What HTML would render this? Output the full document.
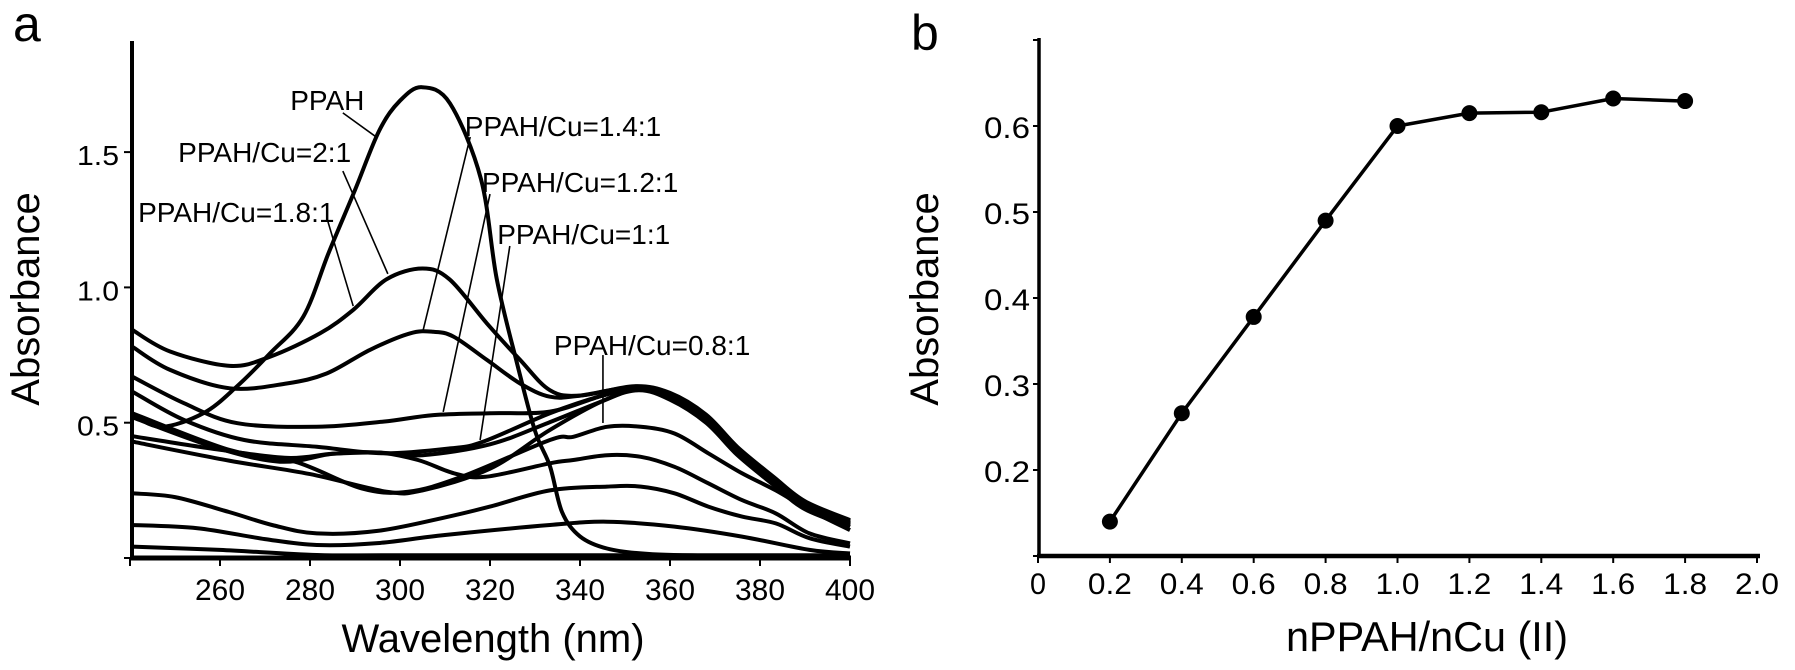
<!DOCTYPE html>
<html><head><meta charset="utf-8">
<style>
html,body{margin:0;padding:0;background:#fff;}
svg{display:block;}
text{font-family:"Liberation Sans",Arial,sans-serif;fill:#000;}
</style></head>
<body>
<svg id="fig" width="1795" height="670" viewBox="0 0 1795 670" xmlns="http://www.w3.org/2000/svg">
  <g id="pa"></g>
  <g id="pb"></g>
</svg>
<script>
// ---------- Panel A data (wavelength nm, absorbance) ----------
const aXTicks = [260, 280, 300, 320, 340, 360, 380, 400];
const aYTicks = [0.5, 1.0, 1.5];
const aYTickLabels = ["0.5", "1.0", "1.5"];
const curveNames = ["ppah","ratio-2-1","ratio-1-8-1","ratio-1-4-1","ratio-1-2-1","ratio-1-1-a","ratio-1-1-b","ratio-0-8-1","ratio-0-6-1","ratio-0-4-1","ratio-0-2-1","ratio-0-1"];
const wlPPAH = [240.5,247,256.3,263.7,271.1,278.5,284.2,290,295.4,300,304.9,311.1,318,321.5,326,330,333.3,336,340,346,355,370,400];
const absPPAH = [0.53,0.485,0.535,0.633,0.756,0.892,1.13,1.36,1.58,1.69,1.74,1.68,1.40,1.03,0.72,0.47,0.34,0.17,0.08,0.035,0.015,0.008,0.005];
const wl21 = [240.5,248.9,262.2,271.1,282.2,289.6,297,305,311,319.3,326.7,333.3,340,352,360,368,375,383,390,400];
const abs21 = [0.843,0.763,0.71,0.744,0.83,0.917,1.03,1.07,1.03,0.867,0.732,0.62,0.60,0.635,0.61,0.53,0.41,0.30,0.21,0.14];
const wl181 = [240.5,248.9,262.2,274.8,283.7,293.3,302.2,307.4,311.9,319.3,326.7,333.3,340,352,360,368,375,383,390,400];
const abs181 = [0.781,0.695,0.627,0.645,0.682,0.769,0.83,0.836,0.818,0.732,0.645,0.596,0.60,0.632,0.605,0.525,0.405,0.295,0.205,0.135];
const wl141 = [240.5,252,263.9,281.5,296.3,307.4,320,333.3,345,353,360,368,375,383,390,400];
const abs141 = [0.67,0.572,0.498,0.485,0.504,0.528,0.535,0.541,0.60,0.632,0.60,0.52,0.40,0.29,0.20,0.13];
const wl121 = [240.5,252,265.4,281.5,296.3,311.1,318.5,333.3,345,353,360,368,375,383,390,400];
const abs121 = [0.615,0.51,0.436,0.411,0.387,0.405,0.43,0.535,0.60,0.628,0.595,0.51,0.39,0.28,0.19,0.125];
const wl11a = [240.5,260,275,285,295,305,320,333,345,353,360,368,375,383,390,400];
const abs11a = [0.45,0.40,0.37,0.385,0.39,0.38,0.42,0.50,0.58,0.625,0.59,0.505,0.385,0.275,0.185,0.12];
const wl11b = [240.5,262,280,297,305,320,333,345,353,360,368,375,383,390,400];
const abs11b = [0.43,0.36,0.31,0.245,0.25,0.33,0.47,0.58,0.62,0.585,0.50,0.38,0.27,0.18,0.115];
const wl081 = [240.5,262,276.7,291.5,301.8,313.7,333.3,338.5,346,353.5,361,368.5,376,383.5,391,400];
const abs081 = [0.535,0.40,0.356,0.257,0.245,0.30,0.436,0.448,0.485,0.485,0.46,0.387,0.313,0.25,0.177,0.103];
const wl061 = [240.5,258.5,273.3,285,295,304,312,319,333.3,338.5,346,353.5,361,368.5,376,383.5,391,400];
const abs061 = [0.52,0.411,0.356,0.385,0.39,0.362,0.313,0.30,0.35,0.362,0.38,0.374,0.337,0.276,0.214,0.165,0.091,0.054];
const wl041 = [240.5,250,262,272,281.5,295,310,320,333.3,346,353.5,361,368.5,376,383.5,391,400];
const abs041 = [0.239,0.225,0.17,0.12,0.091,0.10,0.15,0.19,0.25,0.264,0.264,0.239,0.19,0.153,0.128,0.073,0.042];
const wl021 = [240.5,255,270,281.5,295,310,333.3,346,361,376,391,400];
const abs021 = [0.122,0.11,0.07,0.048,0.055,0.085,0.122,0.134,0.116,0.079,0.03,0.017];
const wl01 = [240.5,260,281.5,300,350,400];
const abs01 = [0.042,0.03,0.011,0.01,0.01,0.01];
const aLabels = ["PPAH","PPAH/Cu=2:1","PPAH/Cu=1.4:1","PPAH/Cu=1.2:1","PPAH/Cu=1.8:1","PPAH/Cu=1:1","PPAH/Cu=0.8:1"];
// label anchor (wavelength, absorbance at baseline) and leader start/end
const aLabelWl = [275.6,250.7,314.4,318.2,241.8,321.6,334.2];
const aLabelAbs = [1.656,1.463,1.560,1.353,1.242,1.160,0.750];
const aLeadStartWl = [287.3,287.3,315.6,320.0,284.0,324.4,345.1];
const aLeadStartAbs = [1.645,1.43,1.556,1.345,1.242,1.153,0.750];
const aLeadEndWl = [294.7,297.3,305.1,309.6,289.6,317.8,345.1];
const aLeadEndAbs = [1.556,1.050,0.839,0.540,0.931,0.436,0.499];

// ---------- Panel B data ----------
const bRatio = [0.2,0.4,0.6,0.8,1.0,1.2,1.4,1.6,1.8];
const bAbs = [0.140,0.266,0.378,0.490,0.600,0.615,0.616,0.632,0.629];
const bXTicks = [0,0.2,0.4,0.6,0.8,1.0,1.2,1.4,1.6,1.8,2.0];
const bXTickLabels = ["0","0.2","0.4","0.6","0.8","1.0","1.2","1.4","1.6","1.8","2.0"];
const bYTicks = [0.2,0.3,0.4,0.5,0.6];
const bYTickLabels = ["0.2","0.3","0.4","0.5","0.6"];

const NS = "http://www.w3.org/2000/svg";
function mk(tag, attrs, parent, txt){
  const e = document.createElementNS(NS, tag);
  for (const k in attrs) e.setAttribute(k, attrs[k]);
  if (txt !== undefined) e.textContent = txt;
  parent.appendChild(e);
  return e;
}
function smooth(pts){
  let d = "M" + pts[0][0].toFixed(1) + "," + pts[0][1].toFixed(1);
  for (let i = 0; i < pts.length - 1; i++){
    const p0 = pts[i-1] || pts[i], p1 = pts[i], p2 = pts[i+1], p3 = pts[i+2] || p2;
    const c1x = p1[0] + (p2[0]-p0[0])/6, c1y = p1[1] + (p2[1]-p0[1])/6;
    const c2x = p2[0] - (p3[0]-p1[0])/6, c2y = p2[1] - (p3[1]-p1[1])/6;
    d += " C" + c1x.toFixed(1)+","+c1y.toFixed(1)+" "+c2x.toFixed(1)+","+c2y.toFixed(1)+" "+p2[0].toFixed(1)+","+p2[1].toFixed(1);
  }
  return d;
}

// ---------- Panel A ----------
const pa = document.getElementById("pa");
const ax = nm => 130 + (nm - 240) * 4.5;
const ay = a => 558 - a * 270.6;

let t = mk("text", {x:13, y:41, "font-size":50}, pa, "a");



const curvesWl = [wlPPAH,wl21,wl181,wl141,wl121,wl11a,wl11b,wl081,wl061,wl041,wl021,wl01];
const curvesAbs = [absPPAH,abs21,abs181,abs141,abs121,abs11a,abs11b,abs081,abs061,abs041,abs021,abs01];
for (let c = 0; c < curvesWl.length; c++){
  const pts = curvesWl[c].map((w,i) => [ax(w), ay(curvesAbs[c][i])]);
  const p = mk("path", {d:smooth(pts), fill:"none", stroke:"#000", "stroke-width":4, "stroke-linejoin":"round"}, pa);
  
  
}

// axes
let yAxA = mk("line", {x1:132, y1:41, x2:132, y2:560, stroke:"#000", "stroke-width":4}, pa);


let xAxA = mk("line", {x1:130, y1:558, x2:851, y2:558, stroke:"#000", "stroke-width":5}, pa);


for (let i = 0; i < aXTicks.length; i++){
  const x = ax(aXTicks[i]);
  mk("line", {x1:x, y1:558, x2:x, y2:566, stroke:"#000", "stroke-width":2}, pa);
  const l = mk("text", {x:x, y:600, "font-size":30, "text-anchor":"middle", textLength:50, lengthAdjust:"spacingAndGlyphs"}, pa, String(aXTicks[i]));
  
  
}
mk("line", {x1:ax(240), y1:558, x2:ax(240), y2:566, stroke:"#000", "stroke-width":2}, pa);
for (let i = 0; i < aYTicks.length; i++){
  const y = ay(aYTicks[i]);
  mk("line", {x1:124, y1:y, x2:132, y2:y, stroke:"#000", "stroke-width":2}, pa);
  const l = mk("text", {x:119, y:y+13, "font-size":28, "text-anchor":"end", textLength:42, lengthAdjust:"spacingAndGlyphs"}, pa, aYTickLabels[i]);
  
  
}
mk("line", {x1:124, y1:558, x2:132, y2:558, stroke:"#000", "stroke-width":2}, pa);

// annotations
for (let i = 0; i < aLabels.length; i++){
  const ln = mk("line", {x1:ax(aLeadStartWl[i]), y1:ay(aLeadStartAbs[i]), x2:ax(aLeadEndWl[i]), y2:ay(aLeadEndAbs[i]), stroke:"#000", "stroke-width":1.6}, pa);
  
  
  const l = mk("text", {x:ax(aLabelWl[i]), y:ay(aLabelAbs[i]), "font-size":28}, pa, aLabels[i]);
  
  
}

let tA = mk("text", {x:493, y:652, "font-size":40, "text-anchor":"middle"}, pa, "Wavelength (nm)");


let yA = mk("text", {x:0, y:0, "font-size":40, "text-anchor":"middle", transform:"translate(39,299) rotate(-90)"}, pa, "Absorbance");



// ---------- Panel B ----------
const pb = document.getElementById("pb");
const bx = v => 1038 + v * 359.5;
const by = v => 470 - (v - 0.2) * 860;

let tb = mk("text", {x:911, y:50, "font-size":50}, pb, "b");



let yAxB = mk("line", {x1:1039, y1:38, x2:1039, y2:558, stroke:"#000", "stroke-width":3.5}, pb);


let xAxB = mk("line", {x1:1037, y1:556, x2:1760, y2:556, stroke:"#000", "stroke-width":4.5}, pb);


for (let i = 0; i < bXTicks.length; i++){
  const x = bx(bXTicks[i]);
  mk("line", {x1:x, y1:556, x2:x, y2:563, stroke:"#000", "stroke-width":2}, pb);
  const l = mk("text", {x:x, y:594, "font-size":30, "text-anchor":"middle", textLength: bXTickLabels[i].length === 1 ? 16 : 44, lengthAdjust:"spacingAndGlyphs"}, pb, bXTickLabels[i]);
  
  
}
for (let v = 0.1; v < 0.75; v += 0.1){
  mk("line", {x1:1033, y1:by(v), x2:1039, y2:by(v), stroke:"#000", "stroke-width":2}, pb);
}
for (let i = 0; i < bYTicks.length; i++){
  const y = by(bYTicks[i]);
  const l = mk("text", {x:1030, y:y+12, "font-size":30, "text-anchor":"end", textLength:46, lengthAdjust:"spacingAndGlyphs"}, pb, bYTickLabels[i]);
  
  
}
const linePts = bRatio.map((r,i) => bx(r).toFixed(1) + "," + by(bAbs[i]).toFixed(1)).join(" ");
let pl = mk("polyline", {points:linePts, fill:"none", stroke:"#000", "stroke-width":3.5, "stroke-linejoin":"round"}, pb);


for (let i = 0; i < bRatio.length; i++){
  const c = mk("circle", {cx:bx(bRatio[i]), cy:by(bAbs[i]), r:8, fill:"#000"}, pb);
  
  
}
let tB = mk("text", {x:1427, y:651, "font-size":42, "text-anchor":"middle", textLength:282, lengthAdjust:"spacingAndGlyphs"}, pb, "nPPAH/nCu (II)");


let yB = mk("text", {x:0, y:0, "font-size":40, "text-anchor":"middle", transform:"translate(938,299) rotate(-90)"}, pb, "Absorbance");


</script>
</body></html>
